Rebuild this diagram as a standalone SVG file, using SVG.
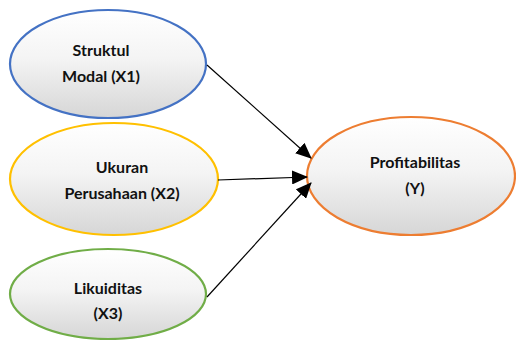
<svg xmlns="http://www.w3.org/2000/svg" width="516" height="340" viewBox="0 0 516 340">
<style>
.n{stroke-width:2.2;fill:url(#g)}
.t{font-family:Lato,"Liberation Sans",sans-serif;font-weight:bold;font-size:16px;fill:#111;text-anchor:middle}
.c{stroke:#000;stroke-width:1.2;fill:none;marker-end:url(#a)}
</style>
<defs>
<linearGradient id="g" x1="0" y1="0" x2="0" y2="1">
<stop offset="0" stop-color="#ffffff"/><stop offset="0.45" stop-color="#f4f4f4"/><stop offset="1" stop-color="#d6d6d6"/>
</linearGradient>
<marker id="a" markerUnits="userSpaceOnUse" markerWidth="16" markerHeight="14" refX="15" refY="7" orient="auto">
<path d="M0,0 L16,7 L0,14 z" fill="#000"/>
</marker>
</defs>
<g id="x1"><ellipse class="n" cx="108" cy="64" rx="98" ry="54" stroke="#4472c4"/><text class="t" x="101" y="56">Struktul</text><text class="t" x="101" y="82">Modal (X1)</text></g>
<g id="x2"><ellipse class="n" cx="114" cy="179" rx="104" ry="56" stroke="#ffc000"/><text class="t" x="122" y="173">Ukuran</text><text class="t" x="122" y="199">Perusahaan (X2)</text></g>
<g id="x3"><ellipse class="n" cx="108" cy="294" rx="98" ry="45" stroke="#70ad47"/><text class="t" x="108" y="294">Likuiditas</text><text class="t" x="108" y="319">(X3)</text></g>
<g id="y"><ellipse class="n" cx="411" cy="176" rx="104" ry="59" stroke="#ed7d31"/><text class="t" x="415" y="168">Profitabilitas</text><text class="t" x="415" y="194">(Y)</text></g>
<g id="connectors">
<line class="c" x1="207" y1="65" x2="311" y2="158"/>
<line class="c" x1="218" y1="180" x2="307" y2="177"/>
<line class="c" x1="207" y1="297" x2="311" y2="183"/>
</g>
</svg>
